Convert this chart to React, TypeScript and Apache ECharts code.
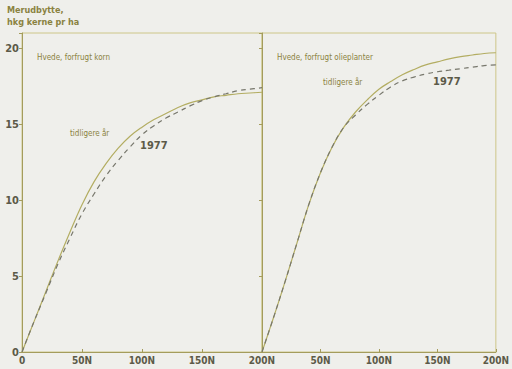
import React, { useEffect, useRef } from "react";
import * as echarts from "echarts";

const nLevels = [0, 10, 20, 30, 40, 50, 60, 70, 80, 90, 100, 110, 120, 130, 140, 150, 160, 170, 180, 190, 200];
const leftEarlier = [0, 2.0, 4.0, 6.0, 7.9, 9.7, 11.2, 12.4, 13.4, 14.2, 14.8, 15.3, 15.7, 16.1, 16.4, 16.6, 16.8, 16.9, 17.0, 17.05, 17.1];
const left1977 = [0, 2.0, 3.9, 5.8, 7.5, 9.1, 10.4, 11.6, 12.6, 13.5, 14.3, 14.9, 15.4, 15.8, 16.2, 16.55, 16.8, 17.0, 17.2, 17.3, 17.4];
const rightEarlier = [0, 2.3, 4.7, 7.2, 9.7, 11.8, 13.5, 14.8, 15.8, 16.6, 17.3, 17.8, 18.25, 18.6, 18.9, 19.1, 19.3, 19.45, 19.55, 19.65, 19.7];
const right1977 = [0, 2.3, 4.7, 7.2, 9.7, 11.8, 13.5, 14.8, 15.6, 16.3, 16.9, 17.45, 17.85, 18.1, 18.3, 18.45, 18.55, 18.65, 18.75, 18.85, 18.9];
const yTicks = [0, 5, 10, 15, 20];

const FONT = "'DejaVu Sans Condensed', 'Liberation Sans Narrow', 'DejaVu Sans', sans-serif";
const TEXT_OLIVE = "#8a8240";
const TEXT_DARK = "#5c5a48";
const FRAME = "#cdc688";
const AXIS = "#a49c5c";
const SOLID = "#b3ad62";
const DASH = "#77776c";

const pairs = (ys: number[]) => nLevels.map((n, i) => [n, ys[i]]);

export default function App() {
  const ref = useRef<HTMLDivElement>(null);
  useEffect(() => {
    if (!ref.current) return;
    const chart = echarts.init(ref.current, undefined, { renderer: "svg" });
    const xAxisBase = (gridIndex: number) => ({
      type: "value" as const,
      gridIndex,
      min: 0,
      max: 200,
      interval: 50,
      axisLine: { show: true, lineStyle: { color: AXIS, width: 1 } },
      axisTick: { show: true, inside: true, length: 3, lineStyle: { color: AXIS } },
      splitLine: { show: false },
      axisLabel: {
        margin: 3,
        fontFamily: FONT,
        fontWeight: "bold" as const,
        fontSize: 10,
        color: TEXT_DARK,
        formatter: (v: number) => (v === 0 ? (gridIndex === 0 ? "0" : "") : v + "N"),
      },
    });
    const yAxisBase = (gridIndex: number) => ({
      type: "value" as const,
      gridIndex,
      min: 0,
      max: 21,
      interval: 5,
      axisLine: { show: true, lineStyle: { color: AXIS, width: 1 } },
      axisTick: { show: true, length: 3, lineStyle: { color: AXIS } },
      splitLine: { show: false },
      axisLabel: {
        show: gridIndex === 0,
        margin: 3,
        fontFamily: FONT,
        fontWeight: "bold" as const,
        fontSize: 11,
        color: TEXT_DARK,
        formatter: (v: number) => (yTicks.includes(v) ? String(v) : ""),
      },
    });
    const line = (xi: number, ys: number[], dashed: boolean, name: string) => ({
      type: "line" as const,
      name,
      xAxisIndex: xi,
      yAxisIndex: xi,
      data: pairs(ys),
      smooth: 0.4,
      showSymbol: false,
      symbol: "none",
      lineStyle: dashed
        ? { color: DASH, width: 1.2, type: [5, 4] as any }
        : { color: SOLID, width: 1.2, type: "solid" as const },
      z: dashed ? 3 : 2,
    });
    const txt = (x: number, y: number, text: string, size: number, color: string, bold = false) => ({
      type: "text" as const,
      x,
      y,
      style: {
        text,
        fontFamily: FONT,
        fontSize: size,
        fontWeight: bold ? "bold" : "normal",
        fill: color,
        textVerticalAlign: "middle",
      },
    });
    chart.setOption({
      animation: false,
      backgroundColor: "#efefeb",
      grid: [
        { left: 22, right: 250, top: 33, bottom: 17, show: true, borderColor: FRAME, borderWidth: 1 },
        { left: 262, right: 7, top: 33, bottom: 17, show: true, borderColor: FRAME, borderWidth: 1 },
      ],
      xAxis: [xAxisBase(0), xAxisBase(1)],
      yAxis: [yAxisBase(0), yAxisBase(1)],
      series: [
        line(0, leftEarlier, false, "tidligere år"),
        line(0, left1977, true, "1977"),
        line(1, rightEarlier, false, "tidligere år"),
        line(1, right1977, true, "1977"),
      ],
      graphic: [
        txt(7, 10, "Merudbytte,", 9, TEXT_OLIVE, true),
        txt(7, 22, "hkg kerne pr ha", 9, TEXT_OLIVE, true),
        txt(37, 57, "Hvede, forfrugt korn", 8, TEXT_OLIVE),
        txt(70, 133, "tidligere år", 8, TEXT_OLIVE),
        txt(140, 145, "1977", 11, TEXT_DARK, true),
        txt(277, 57, "Hvede, forfrugt olieplanter", 8, TEXT_OLIVE),
        txt(323, 82, "tidligere år", 8, TEXT_OLIVE),
        txt(433, 81, "1977", 11, TEXT_DARK, true),
      ],
    });
    return () => chart.dispose();
  }, []);
  return (
    <div
      ref={ref}
      style={{ position: "fixed", left: 0, top: 0, width: 512, height: 369 }}
    />
  );
}
